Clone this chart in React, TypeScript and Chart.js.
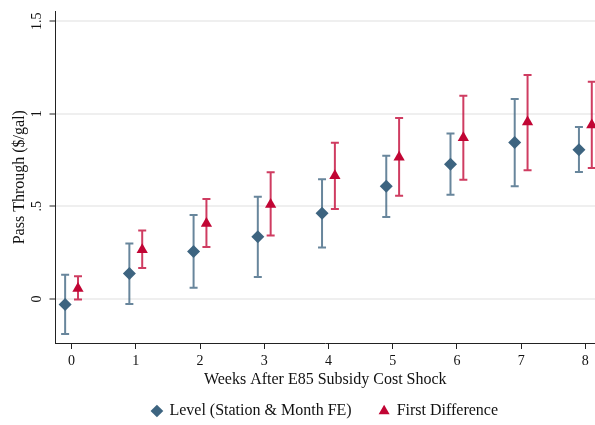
import React, { useEffect, useRef } from "react";
import { Chart, registerables } from "chart.js";

Chart.register(...registerables);

const weeks = [0, 1, 2, 3, 4, 5, 6, 7, 8];
const levelEst = [-0.03, 0.137, 0.256, 0.336, 0.463, 0.608, 0.727, 0.845, 0.806];
const levelLo = [-0.19, -0.028, 0.06, 0.119, 0.278, 0.443, 0.563, 0.608, 0.686];
const levelHi = [0.13, 0.3, 0.454, 0.552, 0.646, 0.773, 0.894, 1.08, 0.928];
const fdEst = [0.056, 0.265, 0.408, 0.51, 0.665, 0.765, 0.87, 0.955, 0.94];
const fdLo = [-0.003, 0.167, 0.28, 0.342, 0.486, 0.557, 0.644, 0.695, 0.707];
const fdHi = [0.122, 0.37, 0.54, 0.684, 0.843, 0.977, 1.098, 1.21, 1.173];
const yTickValues = [0, 0.5, 1, 1.5];
const yTickLabels = ["0", ".5", "1", "1.5"];
const xTickValues = [0, 1, 2, 3, 4, 5, 6, 7, 8];

const OFFSET = 0.1;
const BLUE = "#3d6480";
const BLUE_BAR = "rgba(61,100,128,0.78)";
const RED = "#c10534";
const RED_BAR = "rgba(193,5,52,0.78)";
const FONT = "'Liberation Serif', 'Times New Roman', serif";

const errorBars = {
  id: "errorBars",
  beforeDatasetsDraw(chart: any) {
    const { ctx, chartArea, scales } = chart;
    const x = scales.x;
    const y = scales.y;
    ctx.save();
    ctx.beginPath();
    ctx.rect(chartArea.left, chartArea.top, chartArea.right - chartArea.left, chartArea.bottom - chartArea.top);
    ctx.clip();
    chart.data.datasets.forEach((ds: any) => {
      const lo = ds.lo as number[];
      const hi = ds.hi as number[];
      ctx.strokeStyle = ds.barColor;
      ctx.lineWidth = 2;
      ds.data.forEach((p: any, i: number) => {
        const px = x.getPixelForValue(p.x);
        const pl = y.getPixelForValue(lo[i]);
        const ph = y.getPixelForValue(hi[i]);
        ctx.beginPath();
        ctx.moveTo(px, pl);
        ctx.lineTo(px, ph);
        ctx.moveTo(px - 4, pl);
        ctx.lineTo(px + 4, pl);
        ctx.moveTo(px - 4, ph);
        ctx.lineTo(px + 4, ph);
        ctx.stroke();
      });
    });
    ctx.restore();
  },
};

export default function App() {
  const ref = useRef<HTMLCanvasElement>(null);
  useEffect(() => {
    if (!ref.current) return;
    const chart = new Chart(ref.current, {
      type: "scatter",
      data: {
        datasets: [
          {
            label: "Level (Station & Month FE)",
            data: weeks.map((w, i) => ({ x: w - OFFSET, y: levelEst[i] })),
            lo: levelLo,
            hi: levelHi,
            barColor: BLUE_BAR,
            pointStyle: "rectRot",
            pointRadius: 6.5,
            backgroundColor: BLUE,
            borderColor: BLUE,
            borderWidth: 0,
          } as any,
          {
            label: "First Difference",
            data: weeks.map((w, i) => ({ x: w + OFFSET, y: fdEst[i] })),
            lo: fdLo,
            hi: fdHi,
            barColor: RED_BAR,
            pointStyle: "triangle",
            pointRadius: 6.5,
            backgroundColor: RED,
            borderColor: RED,
            borderWidth: 0,
          } as any,
        ],
      },
      options: {
        responsive: false,
        animation: false,
        layout: { autoPadding: false, padding: { left: 6, right: 0, top: 8, bottom: 0 } },
        plugins: {
          tooltip: { enabled: false },
          legend: {
            position: "bottom",
            fullSize: false,
            maxHeight: 50,
            labels: {
              usePointStyle: true,
              boxHeight: 9,
              boxWidth: 9,
              padding: 28,
              color: "#111",
              font: { family: FONT, size: 16 },
            },
          },
        },
        scales: {
          x: {
            type: "linear",
            min: -0.25,
            max: 8.15,
            afterBuildTicks: (s: any) => {
              s.ticks = xTickValues.map((v) => ({ value: v }));
            },
            grid: { drawOnChartArea: false, tickLength: 6, tickColor: "#222", lineWidth: 1 },
            border: { display: true, color: "#222", width: 1 },
            ticks: { color: "#111", font: { family: FONT, size: 14 }, padding: 4, maxRotation: 0 },
            title: {
              display: true,
              text: "Weeks After E85 Subsidy Cost Shock",
              color: "#111",
              font: { family: FONT, size: 16 },
              padding: { top: -3.4, bottom: -14.6 },
            },
          },
          y: {
            type: "linear",
            min: -0.238,
            max: 1.553,
            afterBuildTicks: (s: any) => {
              s.ticks = yTickValues.map((v) => ({ value: v }));
            },
            grid: { color: "#efefef", lineWidth: 2, tickLength: 6, tickColor: "#222", tickWidth: 1 },
            border: { display: true, color: "#222", width: 1 },
            ticks: {
              color: "#111",
              font: { family: FONT, size: 14 },
              minRotation: 90,
              maxRotation: 90,
              crossAlign: "center",
              padding: 3,
              callback: (v: any) => {
                const i = yTickValues.indexOf(Number(v));
                return i >= 0 ? yTickLabels[i] : "";
              },
            },
            title: {
              display: true,
              text: "Pass Through ($/gal)",
              color: "#111",
              font: { family: FONT, size: 16 },
              padding: { top: 4.5, bottom: -3 },
            },
          },
        },
      },
      plugins: [errorBars],
    });
    return () => chart.destroy();
  }, []);
  return (
    <div style={{ position: "absolute", left: 0, top: 0, width: 595, height: 425, background: "#fff", overflow: "hidden" }}>
      <canvas ref={ref} width={595} height={425} />
    </div>
  );
}
